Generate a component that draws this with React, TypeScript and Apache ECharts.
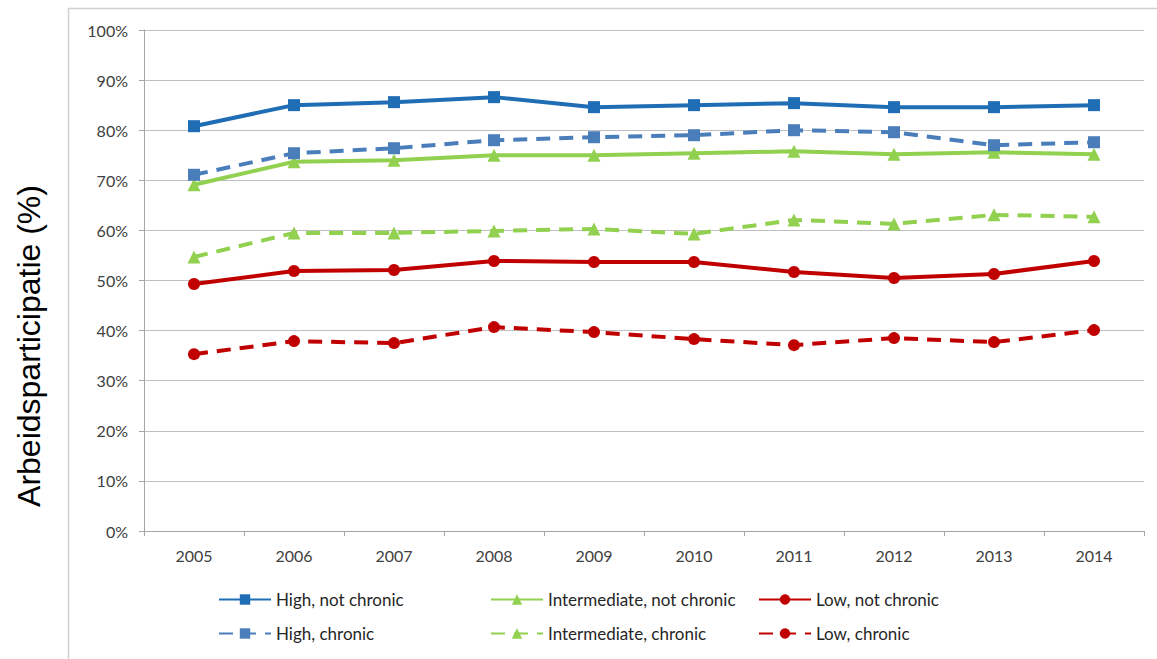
import React, { useEffect, useRef } from "react";
import * as echarts from "echarts";

const years = ["2005", "2006", "2007", "2008", "2009", "2010", "2011", "2012", "2013", "2014"];
const highNotChronic = [80.8, 85.0, 85.6, 86.6, 84.6, 85.0, 85.4, 84.6, 84.6, 85.0];
const highChronic = [71.1, 75.4, 76.4, 78.0, 78.6, 79.0, 80.0, 79.6, 77.0, 77.6];
const interNotChronic = [69.1, 73.7, 74.0, 75.0, 75.0, 75.4, 75.8, 75.2, 75.6, 75.2];
const interChronic = [54.7, 59.5, 59.5, 59.9, 60.3, 59.3, 62.1, 61.3, 63.1, 62.7];
const lowNotChronic = [49.3, 51.9, 52.1, 53.9, 53.7, 53.7, 51.7, 50.5, 51.3, 53.9];
const lowChronic = [35.3, 37.9, 37.5, 40.7, 39.7, 38.3, 37.1, 38.5, 37.7, 40.1];

const seriesNames = [
  "High, not chronic",
  "Intermediate, not chronic",
  "Low, not chronic",
  "High, chronic",
  "Intermediate, chronic",
  "Low, chronic",
];

const BLUE = "#1F6DB5";
const BLUE_D = "#4A7EBB";
const GREEN = "#92D050";
const RED = "#C00000";
const DASH = [14, 9];
const FONT = "Lato, 'Open Sans', sans-serif";

export default function App() {
  const ref = useRef<HTMLDivElement>(null);
  useEffect(() => {
    document.body.style.margin = "0";
    const chart = echarts.init(ref.current!, undefined, { renderer: "svg" });
    const mk = (name: string, data: number[], color: string, symbol: string, dashed: boolean, size: number) => ({
      name,
      type: "line",
      data,
      symbol,
      symbolSize: size,
      itemStyle: { color },
      lineStyle: { color, width: 4, type: dashed ? DASH : "solid" },
      z: 3,
    });
    const legendPos = [
      { left: 218, top: 591 },
      { left: 490, top: 591 },
      { left: 758, top: 591 },
      { left: 218, top: 625 },
      { left: 490, top: 625 },
      { left: 758, top: 625 },
    ];
    chart.setOption({
      animation: false,
      backgroundColor: "#ffffff",
      grid: { left: 144, right: 13, top: 30, bottom: 128, containLabel: false },
      xAxis: {
        type: "category",
        data: years,
        boundaryGap: true,
        axisLine: { lineStyle: { color: "#A6A6A6", width: 1 } },
        axisTick: { show: true, length: 5, lineStyle: { color: "#A6A6A6" } },
        axisLabel: { color: "#404040", fontSize: 16, margin: 16, fontFamily: FONT },
      },
      yAxis: {
        type: "value",
        min: 0,
        max: 100,
        interval: 10,
        axisLine: { show: true, lineStyle: { color: "#A6A6A6", width: 1 } },
        axisTick: { show: true, length: 5, lineStyle: { color: "#A6A6A6" } },
        axisLabel: { color: "#404040", fontSize: 16, margin: 16, formatter: "{value}%", fontFamily: FONT },
        splitLine: { show: true, lineStyle: { color: "#BFBFBF", width: 1 } },
      },
      legend: seriesNames.map((n, i) => ({
        data: [n],
        left: legendPos[i].left,
        top: legendPos[i].top,
        itemWidth: 52,
        itemHeight: 13,
        itemGap: 4,
        padding: 0,
        textStyle: { color: "#262626", fontSize: 17, fontFamily: FONT },
      })),
      graphic: [
        { type: "line", shape: { x1: 68.5, y1: 8, x2: 68.5, y2: 659 }, style: { stroke: "#D0D0D0", lineWidth: 1.5 } },
        { type: "line", shape: { x1: 68, y1: 8.5, x2: 1157, y2: 8.5 }, style: { stroke: "#D0D0D0", lineWidth: 1.5 } },
        {
          type: "text",
          x: 29,
          y: 346,
          rotation: Math.PI / 2,
          style: {
            text: "Arbeidsparticipatie (%)",
            fontSize: 32,
            fontFamily: "Liberation Sans, Arial, sans-serif",
            fill: "#000000",
            align: "center",
            verticalAlign: "middle",
          },
        },
      ],
      series: [
        mk(seriesNames[0], highNotChronic, BLUE, "rect", false, 12),
        mk(seriesNames[1], interNotChronic, GREEN, "triangle", false, 13),
        mk(seriesNames[2], lowNotChronic, RED, "circle", false, 12),
        mk(seriesNames[3], highChronic, BLUE_D, "rect", true, 12),
        mk(seriesNames[4], interChronic, GREEN, "triangle", true, 13),
        mk(seriesNames[5], lowChronic, RED, "circle", true, 12),
      ],
    });
    return () => chart.dispose();
  }, []);
  return <div ref={ref} style={{ width: 1157, height: 659 }} />;
}
